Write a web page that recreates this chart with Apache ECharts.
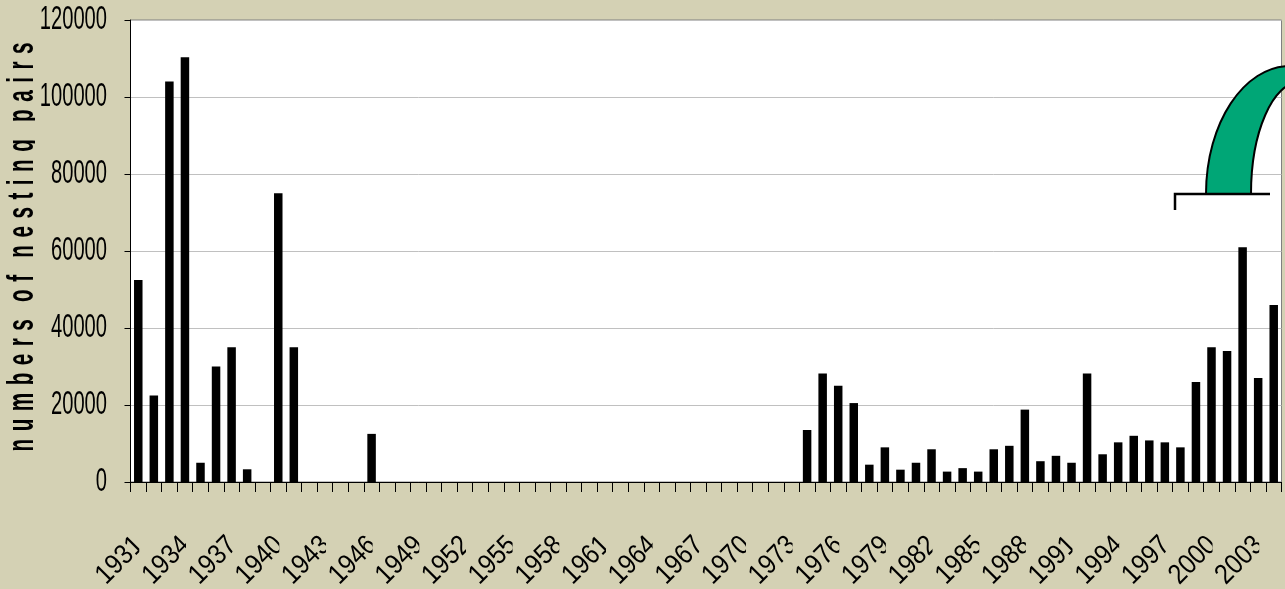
<!DOCTYPE html>
<html>
<head>
<meta charset="utf-8">
<title>nesting pairs</title>
<style>
html, body { margin: 0; padding: 0; background: #d4d1b4; }
#chart { width: 1285px; height: 589px; }
</style>
<script src="https://cdn.jsdelivr.net/npm/echarts@6/dist/echarts.min.js"></script>
</head>
<body>
<div id="chart"></div>
<script>
// 1931 - 2004
var years = [
  "1931","1932","1933","1934","1935","1936","1937","1938","1939","1940",
  "1941","1942","1943","1944","1945","1946","1947","1948","1949","1950",
  "1951","1952","1953","1954","1955","1956","1957","1958","1959","1960",
  "1961","1962","1963","1964","1965","1966","1967","1968","1969","1970",
  "1971","1972","1973","1974","1975","1976","1977","1978","1979","1980",
  "1981","1982","1983","1984","1985","1986","1987","1988","1989","1990",
  "1991","1992","1993","1994","1995","1996","1997","1998","1999","2000",
  "2001","2002","2003","2004"
];
var pairs = [
  52500,22500,104000,110300,5000,30000,35000,3300,0,75000,
  35000,0,0,0,0,12500,0,0,0,0,
  0,0,0,0,0,0,0,0,0,0,
  0,0,0,0,0,0,0,0,0,0,
  0,0,0,13500,28200,25000,20500,4500,9000,3200,
  5000,8500,2700,3600,2700,8500,9400,18800,5400,6800,
  5000,28200,7200,10300,12000,10800,10300,9000,26000,35000,
  34000,61000,27000,46000
];
var yTicks = [0, 20000, 40000, 60000, 80000, 100000, 120000];
var yTitleWords = ["numbers", "of", "nesting", "pairs"];

var bg = "#d4d1b4";
var sans = "'Liberation Sans', Arial, sans-serif";
var myChart = echarts.init(document.getElementById("chart"), null, { renderer: "canvas" });

// no letterSpacing in echarts text, spaces + hair space instead
var yTitle = yTitleWords.map(function (w) {
  return w.split("").join(" \u200a");
}).join("   ");

// the labels in the picture are squeezed sideways, axisLabel can't do that
// so they go through custom series, still placed with api.coord
function renderYLabel(params, api) {
  var v = api.value(1);
  return {
    type: "text",
    x: 107,
    y: api.coord([0, v])[1],
    scaleX: 0.61,
    style: {
      text: String(v),
      font: "33px " + sans,
      fill: "#000",
      align: "right",
      verticalAlign: "middle"
    }
  };
}

function renderXLabel(params, api) {
  var idx = api.value(0);
  var p = api.coord([idx, 0]);
  return {
    type: "group",
    // last digit is cut off on the right
    clipPath: { type: "rect", shape: { x: p[0] - 80, y: 500, width: 81, height: 89 } },
    children: [
      {
        type: "text",
        x: p[0] + 1,
        y: p[1] + 59,
        rotation: Math.PI / 4,
        scaleX: 0.88,
        style: {
          text: years[idx],
          font: "28px " + sans,
          fill: "#000",
          align: "right",
          verticalAlign: "middle"
        }
      }
    ]
  };
}

function renderTitle() {
  return {
    type: "group",
    // descenders are cut as well
    clipPath: { type: "rect", shape: { x: 0, y: 0, width: 35, height: 589 } },
    children: [
      {
        type: "text",
        x: 41.5,
        y: 247,
        rotation: Math.PI / 2,
        scaleX: 0.575,
        style: {
          text: yTitle,
          font: "bold 36px " + sans,
          fill: "#000",
          align: "center",
          verticalAlign: "bottom"
        }
      }
    ]
  };
}

// green arch in the top right corner, not data
function renderArch() {
  return {
    type: "path",
    shape: {
      pathData: "M1206 194 C1206 123 1244 66 1290 66 L1300 66 L1300 82 C1273 82 1251 132 1251 194 Z",
      x: 1206,
      y: 66,
      width: 94,
      height: 128,
      layout: "cover"
    },
    style: { fill: "#00a676", stroke: "#000", lineWidth: 2 }
  };
}

var yLabelData = yTicks.map(function (v) { return [0, v]; });
var xLabelData = [];
for (var i = 0; i < years.length; i += 3) {
  xLabelData.push([i, 0]);
}

myChart.setOption({
  backgroundColor: bg,
  animation: false,
  grid: {
    left: 130.5,
    right: 3.5,
    top: 20,
    bottom: 107,
    outerBoundsMode: "none",
    show: true,
    backgroundColor: "#fff",
    borderColor: "#808080",
    borderWidth: 1
  },
  xAxis: {
    type: "category",
    data: years,
    boundaryGap: true,
    axisLine: { lineStyle: { color: "#000", width: 1 } },
    axisTick: { show: true, interval: 0, length: 10, lineStyle: { color: "#000" } },
    axisLabel: { show: false },
    splitLine: { show: false }
  },
  yAxis: {
    type: "value",
    min: yTicks[0],
    max: yTicks[yTicks.length - 1],
    interval: yTicks[1] - yTicks[0],
    axisLine: { show: true, lineStyle: { color: "#000" } },
    axisTick: { show: true, length: 6, lineStyle: { color: "#000" } },
    axisLabel: { show: false },
    splitLine: { show: true, lineStyle: { color: "#c0c0c0", width: 1 } }
  },
  series: [
    {
      type: "bar",
      data: pairs,
      barWidth: 8.5,
      itemStyle: { color: "#000" }
    },
    { type: "custom", data: yLabelData, silent: true, clip: false, renderItem: renderYLabel },
    { type: "custom", data: xLabelData, silent: true, clip: false, renderItem: renderXLabel },
    { type: "custom", data: [[0, 0]], silent: true, clip: false, renderItem: renderTitle },
    { type: "custom", data: [[0, 0]], silent: true, clip: false, z: 10, renderItem: renderArch }
  ],
  graphic: [
    {
      type: "polyline",
      z: 101,
      shape: { points: [[1270, 194], [1175, 194], [1175, 210]] },
      style: { stroke: "#000", fill: null, lineWidth: 2.5 }
    }
  ]
});
</script>
</body>
</html>
